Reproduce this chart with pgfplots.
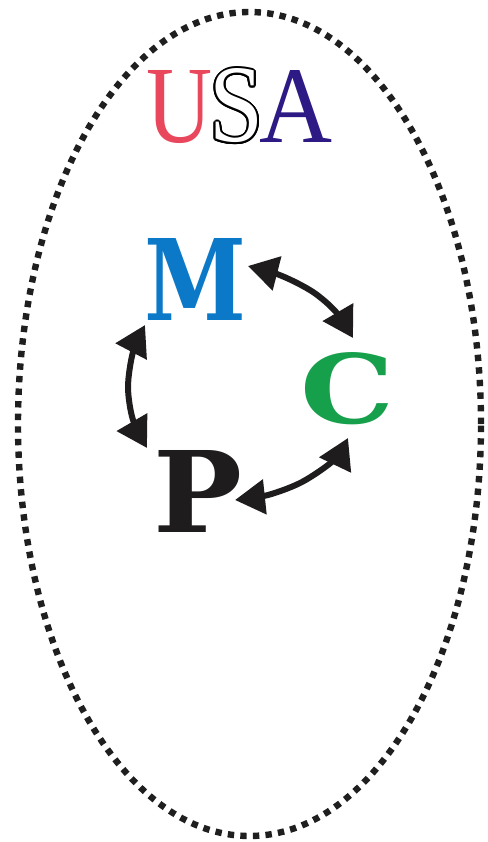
\documentclass[border=0pt]{standalone}
\usepackage{fontspec}
\setmainfont{Liberation Serif}
\newfontfamily\usafont{Liberation Serif}
\newfontfamily\mcpfont{DejaVu Serif}
\usepackage{graphicx}
\usepackage{pgfplots}
\pgfplotsset{compat=1.18}
\usetikzlibrary{arrows.meta}
\definecolor{usared}{HTML}{E8475C}
\definecolor{usablue}{HTML}{2D1A84}
\definecolor{mblue}{HTML}{0B79C8}
\definecolor{cgreen}{HTML}{17A04B}
\definecolor{pblack}{HTML}{1E1C1C}
\begin{document}
\begin{tikzpicture}
\path[use as bounding box] (0,0) rectangle (244pt,421pt);
\begin{axis}[
  at={(0,0)}, anchor=south west,
  width=244pt, height=421pt, scale only axis,
  xmin=0, xmax=488, ymin=0, ymax=842, y dir=reverse,
  hide axis, clip=false,
]
\draw[line width=3.2pt, dash pattern=on 3.2pt off 3.1pt, color=black!88] (axis cs:249.5,424) ellipse [x radius=115.75pt, y radius=206pt];
% M <-> C
\addplot[smooth, line width=3pt, color=pblack, <->, >={Triangle[length=15pt,width=17pt]}] coordinates {(248,266) (282,276) (313,292) (336,312) (353,338)};
% C <-> P
\addplot[smooth, line width=3pt, color=pblack, <->, >={Triangle[length=15pt,width=17pt]}] coordinates {(348,438) (334,460) (302,482) (268,495) (235,500)};
% P <-> M
\addplot[smooth, line width=3pt, color=pblack, <->, >={Triangle[length=15pt,width=17pt]}] coordinates {(145,325) (133,352) (128,387) (133,420) (147,448)};
\node[anchor=base, inner sep=0pt, text=usared] at (axis cs:180,142) {\resizebox{33pt}{36pt}{\usafont U}};
\coordinate (S) at (axis cs:236.5,142);
\node[anchor=base, inner sep=0pt, text=usablue] at (axis cs:296,142) {\resizebox{36.5pt}{36pt}{\usafont A}};
\node[anchor=base, inner sep=0pt, text=mblue] at (axis cs:196,320) {\resizebox{51pt}{41pt}{\mcpfont\bfseries M}};
\node[anchor=base, inner sep=0pt, text=cgreen] at (axis cs:348,423) {\resizebox{47pt}{35.5pt}{\mcpfont\bfseries C}};
\node[anchor=base, inner sep=0pt, text=pblack] at (axis cs:197.5,532) {\resizebox{44.5pt}{41pt}{\mcpfont\bfseries P}};
\end{axis}
\foreach \a in {0,22.5,...,337.5}
  \node[anchor=base, inner sep=0pt, text=black] at ([shift={(\a:1pt)}]S) {\resizebox{27pt}{36.5pt}{\usafont S}};
\node[anchor=base, inner sep=0pt, text=white] at (S) {\resizebox{27pt}{36.5pt}{\usafont S}};
\end{tikzpicture}
\end{document}
